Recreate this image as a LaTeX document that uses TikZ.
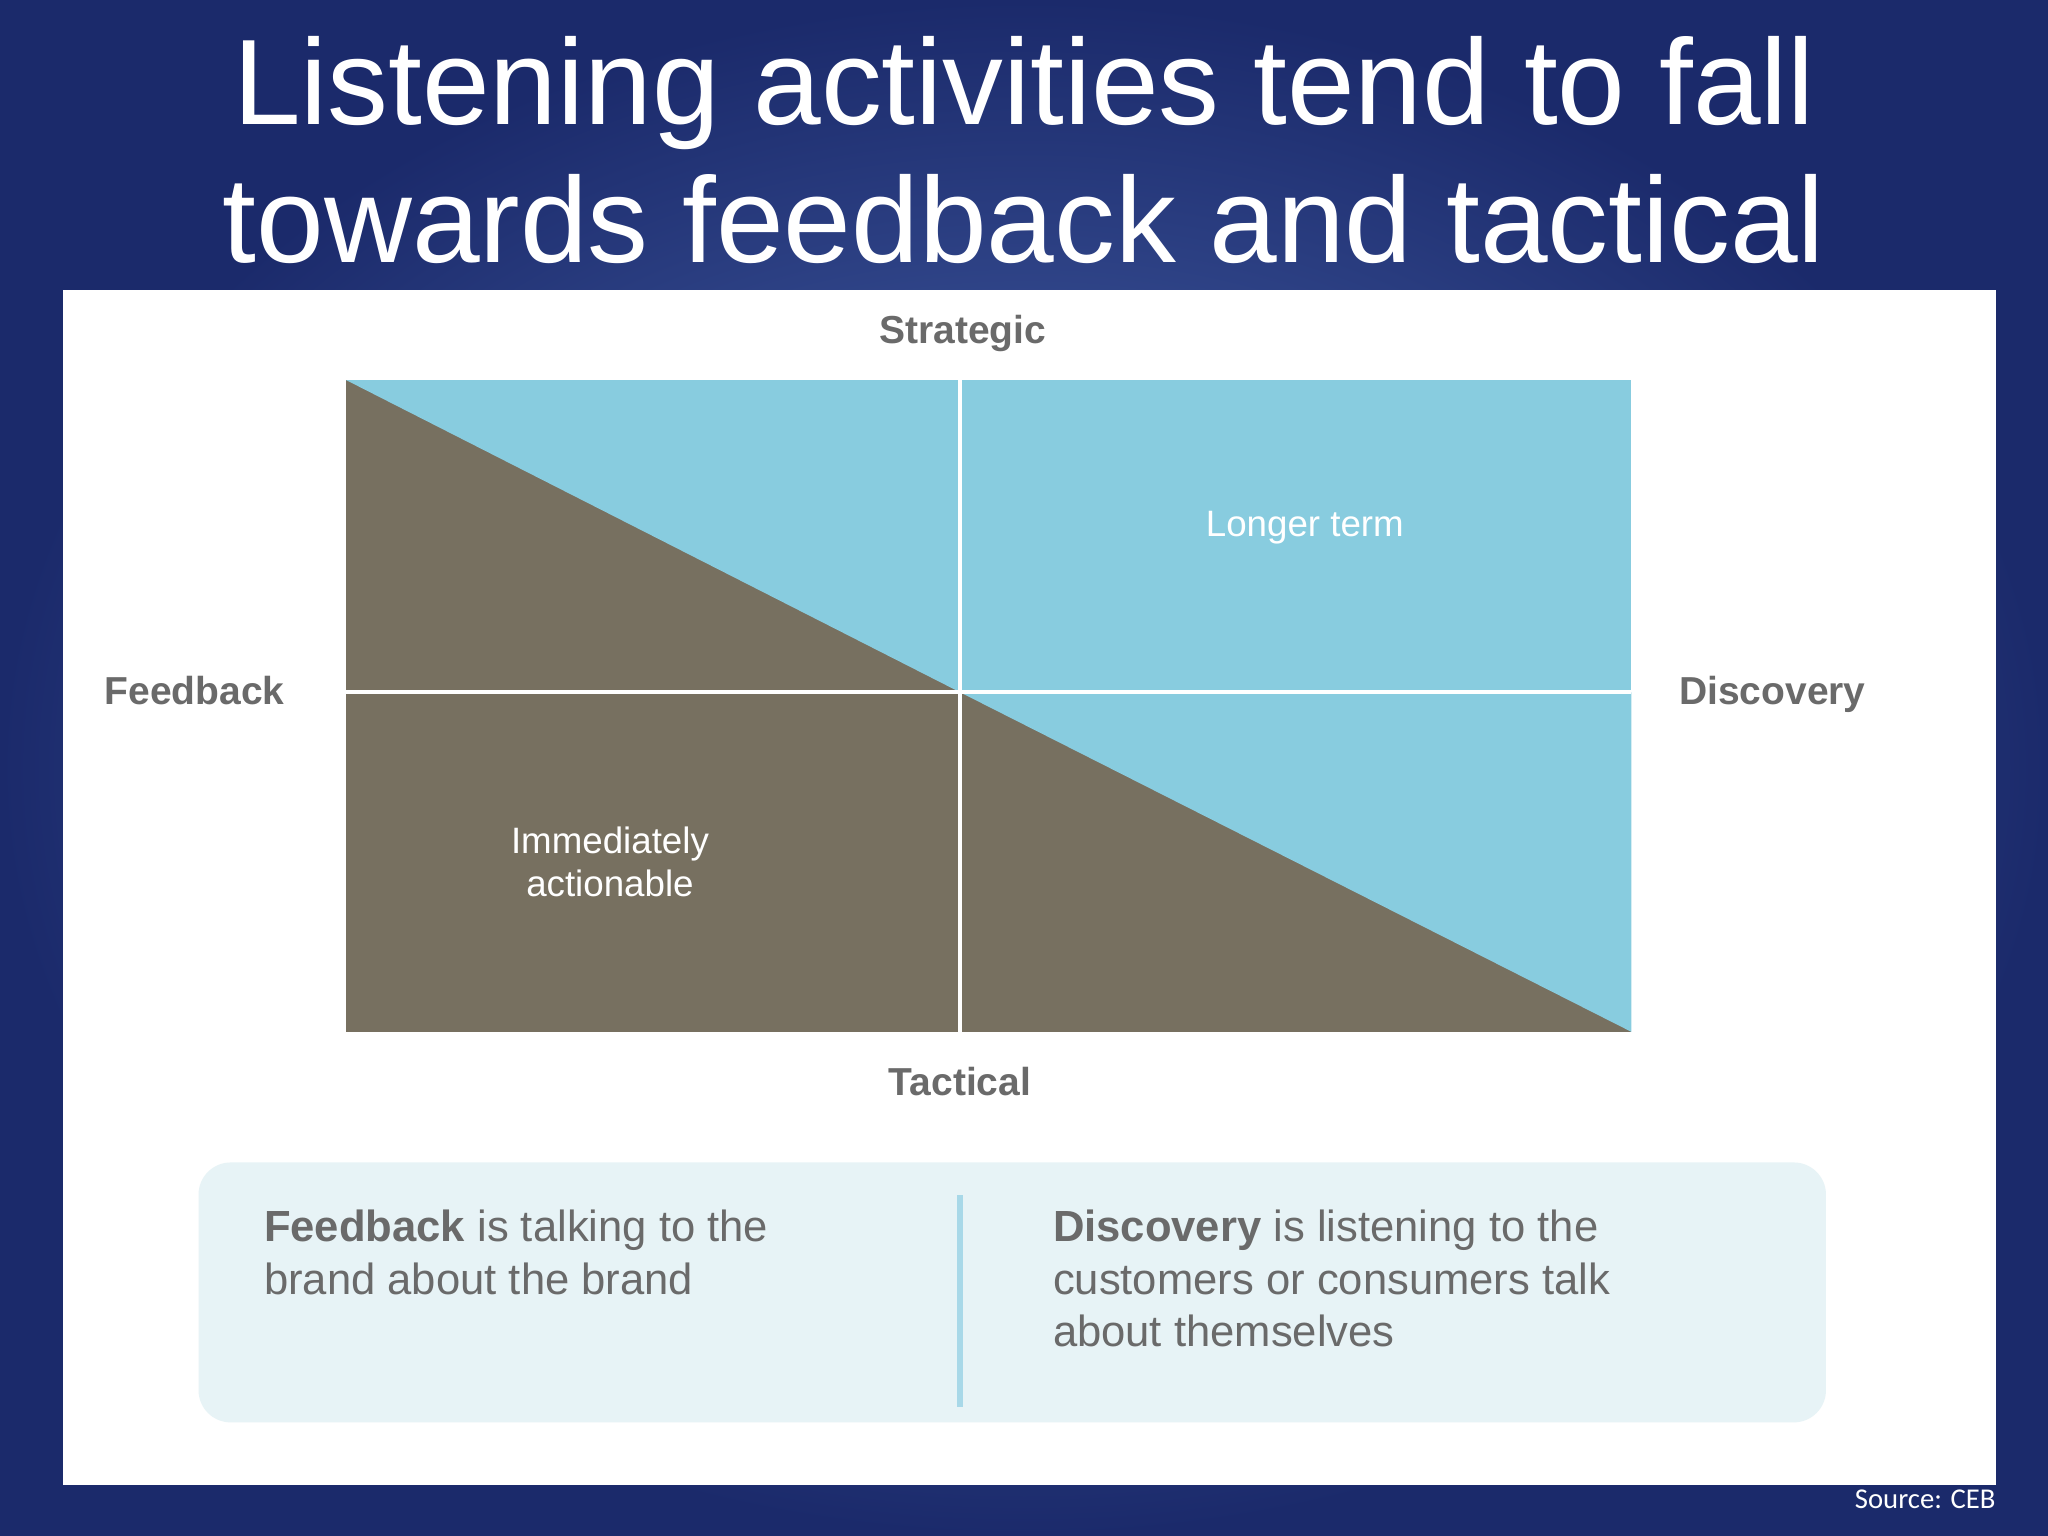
\documentclass[tikz,border=0pt]{standalone}
\usepackage{fontspec}
\setmainfont{Liberation Sans}
\newfontfamily\srcfont{Carlito}
\definecolor{bgdark}{HTML}{1B2A6B}
\definecolor{bglight}{HTML}{4F6DB5}
\definecolor{qblue}{HTML}{88CCDF}
\definecolor{qbrown}{HTML}{777060}
\definecolor{lbl}{HTML}{6A6A6A}
\definecolor{boxfill}{HTML}{E7F3F6}
\definecolor{divline}{HTML}{A8D8E8}
\begin{document}
\begin{tikzpicture}[x=0.02cm,y=-0.02cm,
  axis/.style={text=lbl,font=\fontsize{17}{20}\selectfont\bfseries},
  inner/.style={text=white,font=\fontsize{16}{19}\selectfont,align=center},
  desc/.style={text=lbl,font=\fontsize{19}{23}\selectfont,align=left,anchor=north west}]
\useasboundingbox (0,0) rectangle (1568,1176);
\shade[inner color=bglight,outer color=bgdark] (0,0) rectangle (1568,1176);
\node[text=white,font=\fontsize{53}{60}\selectfont,align=center] (title) at (784,115)
  {Listening activities tend to fall\\towards feedback and tactical};
\fill[white] (48,222) rectangle (1528,1137);
% quadrants
\fill[qbrown] (265,291) rectangle (1249,790);
\fill[qblue] (265,291) -- (735,291) -- (735,530) -- cycle;
\fill[qblue] (735,291) rectangle (1249,530);
\fill[qblue] (735,530) -- (1249,530) -- (1249,790) -- cycle;
\draw[white,line width=1.6pt] (735,291) -- (735,790);
\draw[white,line width=1.6pt] (265,530) -- (1249,530);
\node[axis] (strat) at (737,255) {Strategic};
\node[axis] (tact) at (735,828) {Tactical};
\node[axis] (feed) at (149,529) {Feedback};
\node[axis] (disc) at (1357,532) {Discovery};
\node[inner] (long) at (999,404) {Longer term};
\node[inner] (imm) at (467,660) {Immediately\\actionable};
% description box
\fill[boxfill,rounded corners=14] (152,890) rectangle (1398,1089);
\draw[divline,line width=2.5pt] (735,915) -- (735,1077);
\node[desc] (d1) at (196,920) {\textbf{Feedback} is talking to the\\brand about the brand};
\node[desc] (d2) at (800,920) {\textbf{Discovery} is listening to the\\customers or consumers talk\\about themselves};
\node[text=white,font=\srcfont\fontsize{12.5}{15}\selectfont,anchor=east] (src) at (1534,1148) {Source: CEB};
\end{tikzpicture}
\end{document}
